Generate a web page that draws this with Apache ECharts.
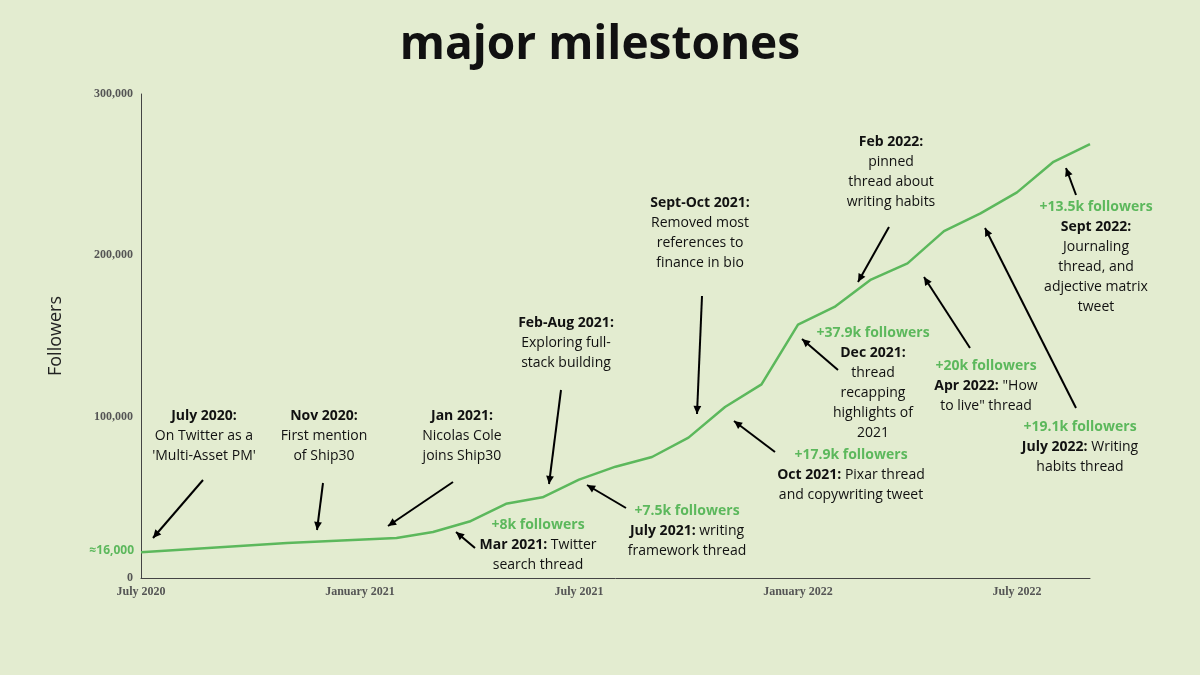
<!DOCTYPE html>
<html><head><meta charset="utf-8">
<script src="https://cdn.jsdelivr.net/npm/echarts@6/dist/echarts.min.js"></script>
<style>html,body{margin:0;background:#e3ecd0}#c{width:1200px;height:675px}</style>
</head><body><div id="c"></div>
<script>
const monthIndex=[0,4,7,8,9,10,11,12,13,14,15,16,17,18,19,20,21,22,23,24,25,26];
const followers=[16000,21700,24800,28500,35000,46000,50000,61000,69000,75000,87000,106000,120000,157000,168000,185000,195000,215000,226000,239000,258000,269000];
const xTickLabels={0:'July 2020',6:'January 2021',12:'July 2021',18:'January 2022',24:'July 2022'};
const yTickLabels={0:'0',100000:'100,000',200000:'200,000',300000:'300,000'};
const green='#5cb85c';
const chart=echarts.init(document.getElementById('c'));
const gfx=[];
function txt(x,y,lines,opt){
  lines.forEach((l,i)=>{
    gfx.push({type:'text',x:x,y:y+i*20,style:{text:l,rich:{b:{fontWeight:'bold',fontSize:14,fontFamily:'Open Sans',fill:'#111'},g:{fill:green,fontSize:14,fontWeight:'bold',fontFamily:'Open Sans'}},
      fontFamily:'Open Sans',fontSize:14,fill:'#111',align:'center',verticalAlign:'top'}});
  });
}
function arrow(x1,y1,x2,y2){
  gfx.push({type:'line',shape:{x1,y1,x2,y2},style:{stroke:'#000',lineWidth:2}});
  const a=Math.atan2(y2-y1,x2-x1),s=9,w=0.45;
  gfx.push({type:'polygon',shape:{points:[[x2,y2],[x2-s*Math.cos(a-w),y2-s*Math.sin(a-w)],[x2-s*Math.cos(a+w),y2-s*Math.sin(a+w)]]},style:{fill:'#000'}});
}
txt(204,409,['{b|July 2020:}','On Twitter as a',"'Multi-Asset PM'"]);arrow(203,480,153,538);
txt(324,409,['{b|Nov 2020:}','First mention','of Ship30']);arrow(323,483,317,530);
txt(462,409,['{b|Jan 2021:}','Nicolas Cole','joins Ship30']);arrow(453,482,388,526);
txt(566,316,['{b|Feb-Aug 2021:}','Exploring full-','stack building']);arrow(561,390,549,484);
txt(700,196,['{b|Sept-Oct 2021:}','Removed most','references to','finance in bio']);arrow(702,296,697,414);
txt(891,135,['{b|Feb 2022:}','pinned','thread about','writing habits']);arrow(889,227,858,282);
txt(1096,200,['{g|+13.5k followers}','{b|Sept 2022:}','Journaling','thread, and','adjective matrix','tweet']);arrow(1076,195,1066,168);
txt(873,326,['{g|+37.9k followers}','{b|Dec 2021:}','thread','recapping','highlights of','2021']);arrow(838,370,802,339);
txt(986,359,['{g|+20k followers}','{b|Apr 2022:} "How','to live" thread']);arrow(970,348,924,277);
txt(1080,420,['{g|+19.1k followers}','{b|July 2022:} Writing','habits thread']);arrow(1076,408,985,228);
txt(851,448,['{g|+17.9k followers}','{b|Oct 2021:} Pixar thread','and copywriting tweet']);arrow(775,452,734,421);
txt(687,504,['{g|+7.5k followers}','{b|July 2021:} writing','framework thread']);arrow(626,508,587,485);
txt(538,518,['{g|+8k followers}','{b|Mar 2021:} Twitter','search thread']);arrow(475,548,456,532);
gfx.push({type:'text',x:134,y:551,style:{text:'≈16,000',fill:green,fontSize:12,fontWeight:'bold',fontFamily:'Open Sans',align:'right',verticalAlign:'middle'}});
chart.setOption({
  backgroundColor:'#e3ecd0',animation:false,
  title:{text:'major milestones',left:'center',top:18,textStyle:{fontSize:46,fontWeight:'bold',fontFamily:'Open Sans',color:'#111'}},
  grid:{left:141,right:110,top:94,bottom:97},
  xAxis:{type:'value',min:0,max:26,interval:6,axisLine:{lineStyle:{color:'#444'}},axisTick:{show:false},splitLine:{show:false},
    axisLabel:{formatter:v=>xTickLabels[v]||'',color:'#555',fontSize:12,fontWeight:'bold',fontFamily:'Liberation Sans Narrow',margin:8}},
  yAxis:{type:'value',min:0,max:300000,interval:100000,name:'Followers',nameLocation:'middle',nameGap:76,nameRotate:90,
    nameTextStyle:{fontSize:18,color:'#222',fontFamily:'Open Sans'},
    axisLine:{show:true,lineStyle:{color:'#444'}},axisTick:{show:false},splitLine:{show:false},
    axisLabel:{formatter:v=>yTickLabels[v]||'',color:'#555',fontSize:12,fontWeight:'bold',fontFamily:'Liberation Sans Narrow',margin:8}},
  series:[{type:'line',data:monthIndex.map((m,i)=>[m,followers[i]]),showSymbol:false,lineStyle:{color:green,width:2.5}}],
  graphic:gfx
});
</script></body></html>
